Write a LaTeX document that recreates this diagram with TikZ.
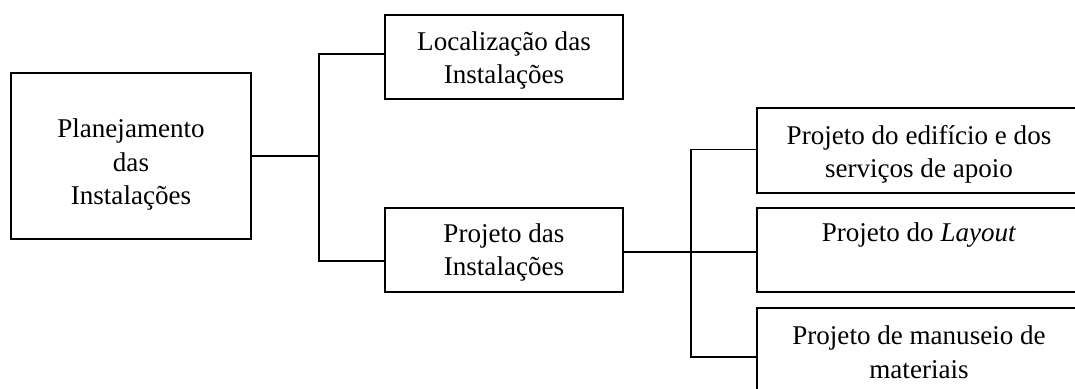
\documentclass[tikz,border=0pt]{standalone}
\usepackage{fontspec}
\setmainfont{Liberation Serif}
\usetikzlibrary{calc}

% primeira linha mais alta: empurra o texto para baixo dentro da caixa
\newcommand{\desce}[1]{\rule{0pt}{#1}}

\tikzset{
    caixa/.style={draw, line width=0.9pt, align=center, inner sep=0pt,
        font=\fontsize{12.3}{15.2}\selectfont},
    grande/.style={caixa, minimum width=109pt, minimum height=75.5pt},
    media/.style={caixa, minimum width=108pt, minimum height=38.2pt},
    larga/.style={caixa, minimum width=147.3pt, minimum height=38.2pt},
    liga/.style={line width=0.9pt}
}

\begin{document}
\begin{tikzpicture}[x=0.4545pt, y=-0.4545pt]
    \useasboundingbox (0,0) rectangle (1075,388);

    % Caixas
    \node[grande] (plan) at (131,156) {\desce{16.4pt}Planejamento\\das\\Instalações};
    \node[media] (local) at (504,57) {\desce{11.8pt}Localização das\\Instalações};
    \node[media] (proj) at (504,250) {\desce{11pt}Projeto das\\Instalações};
    \node[larga] (edif) at (919,150.5) {\desce{12pt}Projeto do edifício e dos\\serviços de apoio};
    \node[larga] (layout) at (919,250) {Projeto do \textit{Layout}\\\rule[-1.5pt]{0pt}{0pt}};
    \node[larga] (manus) at (919,350) {\desce{10.5pt}Projeto de manuseio de\\materiais};

    % Ligacoes
    \draw[liga] (plan.east) -- ++(67,0) coordinate (j1);
    \draw[liga] ($(local.west)+(0,-3)$) -| (j1) |- ($(proj.west)+(0,11)$);
    \draw[liga] ($(proj.east)+(0,2)$) -- ++(67,0) coordinate (j2) -- ($(layout.west)+(0,2)$);
    \draw[liga] ($(edif.west)+(0,-1)$) -| (j2) |- ($(manus.west)+(0,7)$);
\end{tikzpicture}
\end{document}
